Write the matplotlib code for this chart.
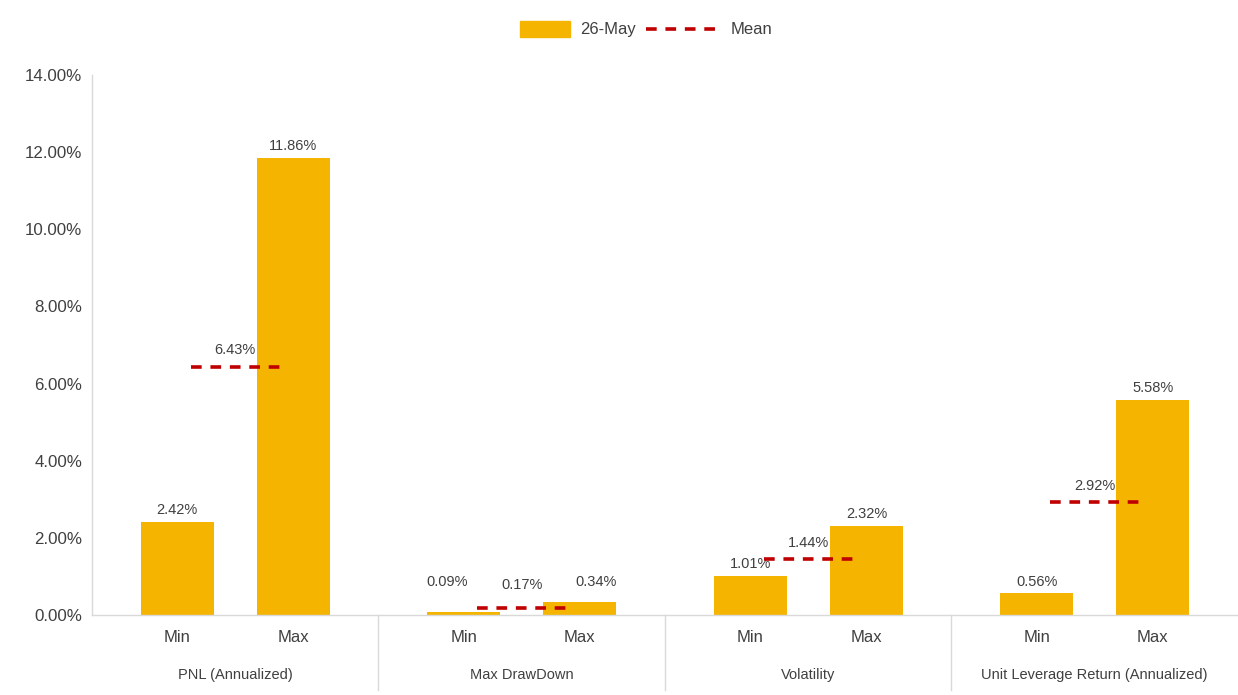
import matplotlib
matplotlib.use("Agg")
import matplotlib.pyplot as plt
from matplotlib.legend_handler import HandlerPatch
from matplotlib.lines import Line2D
from matplotlib.patches import Patch, Rectangle
from matplotlib.ticker import FuncFormatter

plt.rcParams["font.family"] = ["Liberation Sans", "DejaVu Sans"]

groups = ["PNL (Annualized)", "Max DrawDown", "Volatility", "Unit Leverage Return (Annualized)"]
sub_labels = ["Min", "Max"]
min_vals = [2.42, 0.09, 1.01, 0.56]
max_vals = [11.86, 0.34, 2.32, 5.58]
mean_vals = [6.43, 0.17, 1.44, 2.92]
y_ticks = [0, 2, 4, 6, 8, 10, 12, 14]

BAR = "#F4B400"
MEAN = "#C00000"
TXT = "#404040"
GRID = "#D9D9D9"
DASH = (0, (2.96, 2.42))

# labels that Excel pushed sideways to clear the mean label (group, bar) -> points
nudge = {(1, 0): -11.5, (1, 1): 11.5}

fig = plt.figure(figsize=(12.38, 6.95), dpi=100)
ax = fig.add_axes([0.0743, 0.1151, 0.9257, 0.777])

off = 0.203
width = 0.255
for g in range(len(groups)):
    c = g + 0.5
    xs = [c - off, c + off]
    vals = [min_vals[g], max_vals[g]]
    ax.bar(xs, vals, width=width, color=BAR, zorder=2)
    for i, (x, v) in enumerate(zip(xs, vals)):
        ax.annotate(f"{v:.2f}%", (x, max(v, 0.55)), xytext=(nudge.get((g, i), 0), 3.5),
                    textcoords="offset points", ha="center", va="bottom", fontsize=10.5, color=TXT)
    ax.plot([c - 0.155, c + 0.155], [mean_vals[g]] * 2, color=MEAN, lw=2.6,
            linestyle=DASH, dash_capstyle="butt", zorder=3)
    ax.annotate(f"{mean_vals[g]:.2f}%", (c, max(mean_vals[g], 0.35)), xytext=(0, 7),
                textcoords="offset points", ha="center", va="bottom", fontsize=10.5, color=TXT)

ax.set_xlim(0, len(groups))
ax.set_ylim(0, 14)
ax.set_yticks(y_ticks)
ax.yaxis.set_major_formatter(FuncFormatter(lambda v, _: f"{v:.2f}%"))
ax.tick_params(axis="y", length=0, pad=7, labelsize=12.2, labelcolor=TXT)

ticks = []
for g in range(len(groups)):
    ticks += [g + 0.5 - off, g + 0.5 + off]
ax.set_xticks(ticks)
ax.set_xticklabels(sub_labels * len(groups))
ax.tick_params(axis="x", length=0, pad=11, labelsize=12, labelcolor=TXT)

for s in ["top", "right"]:
    ax.spines[s].set_visible(False)
for s in ["left", "bottom"]:
    ax.spines[s].set_color(GRID)
    ax.spines[s].set_linewidth(1)

# group labels and separators under the axis
for g, name in enumerate(groups):
    ax.text(g + 0.5, -0.112, name, transform=ax.get_xaxis_transform(), ha="center", va="center",
            fontsize=10.5, color=TXT)
for g in range(1, len(groups)):
    ax.add_line(Line2D([g, g], [0, -0.139], transform=ax.get_xaxis_transform(), color=GRID,
                       lw=1, clip_on=False))


def small_box(legend, orig_handle, xdescent, ydescent, width, height, fontsize):
    pw, ph = 36, 11.5
    return Rectangle((width - pw - xdescent, (height - ph) / 2 - ydescent), pw, ph)


handles = [Patch(color=BAR, label="26-May"),
           Line2D([], [], color=MEAN, lw=2.6, linestyle=DASH, dash_capstyle="butt", label="Mean")]
fig.legend(handles=handles, loc="center", bbox_to_anchor=(0.512, 0.957), ncol=2, frameon=False,
           fontsize=12, handlelength=4.5, handletextpad=0.6, columnspacing=0.6,
           labelcolor=TXT, handler_map={Patch: HandlerPatch(patch_func=small_box)})

fig.savefig("out.png", dpi=100)
